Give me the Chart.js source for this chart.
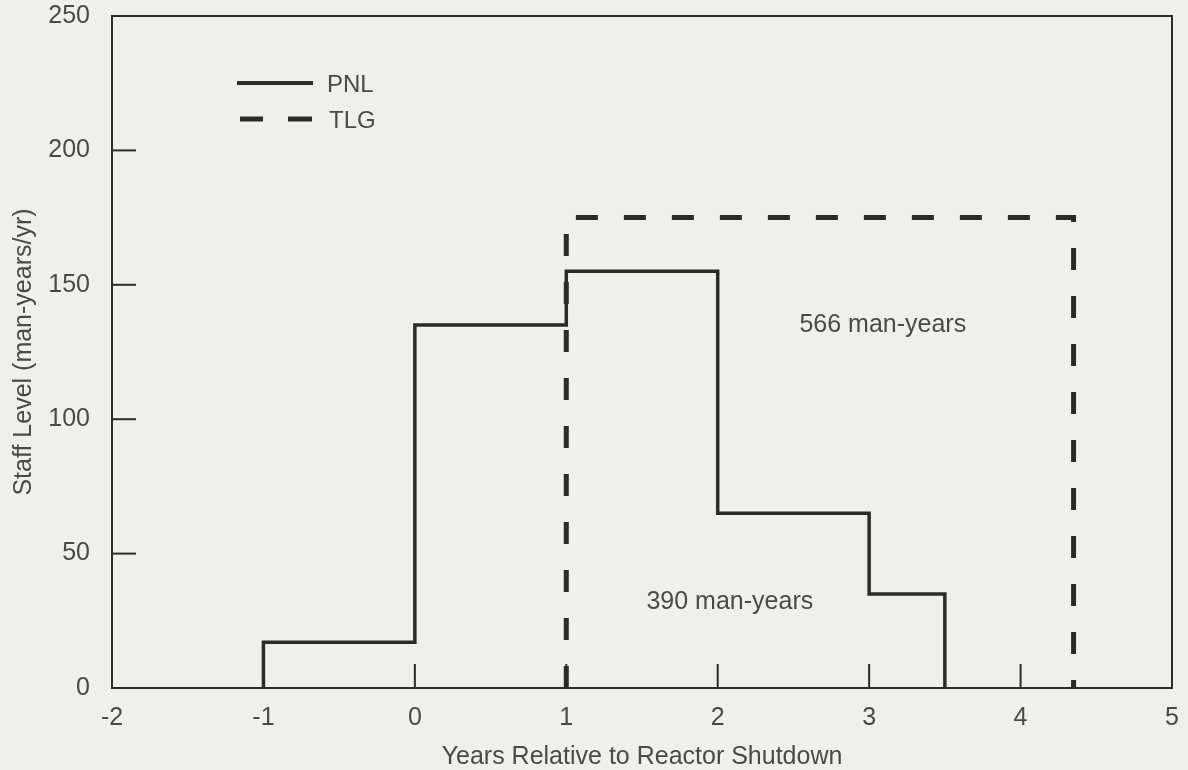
<!DOCTYPE html>
<html>
<head>
<meta charset="utf-8">
<script src="https://cdn.jsdelivr.net/npm/chart.js@4/dist/chart.umd.min.js"></script>
<style>
  html, body { margin: 0; padding: 0; background: #efefec; }
  #wrap { width: 1188px; height: 770px; }
</style>
</head>
<body>
<div id="wrap"><canvas id="c" width="1188" height="770"></canvas></div>
<script>
// PNL staffing profile (stepped)
const pnlYears = [-1, -1, 0, 1, 2, 3, 3.5];
const pnlStaff = [0, 17, 135, 155, 65, 35, 0];
// TLG staffing profile (stepped)
const tlgYears = [1, 1, 4.35];
const tlgStaff = [0, 175, 0];

const xTicks = [-2, -1, 0, 1, 2, 3, 4, 5];
const yTicks = [0, 50, 100, 150, 200, 250];

const ink = '#2b2b2b';
const textInk = '#4a4a4a';
const font = { family: 'Liberation Sans, Arial, sans-serif', size: 25 };

const toPoints = (xs, ys) => xs.map((x, i) => ({ x: x, y: ys[i] }));

// frame, inward ticks, legend and notes
const decor = {
  id: 'decor',
  beforeDraw(chart) {
    const ctx = chart.ctx;
    ctx.save();
    ctx.fillStyle = '#efefec';
    ctx.fillRect(0, 0, chart.width, chart.height);
    ctx.restore();
  },
  afterDraw(chart) {
    const { ctx, chartArea: a, scales } = chart;
    const xs = scales.x, ys = scales.y;
    ctx.save();
    ctx.strokeStyle = ink;
    ctx.lineWidth = 2;
    ctx.strokeRect(a.left, a.top, a.right - a.left, a.bottom - a.top);

    // inward ticks
    xTicks.forEach(v => {
      const px = xs.getPixelForValue(v);
      ctx.beginPath(); ctx.moveTo(px, a.bottom); ctx.lineTo(px, a.bottom - 24); ctx.stroke();
    });
    yTicks.forEach(v => {
      const py = ys.getPixelForValue(v);
      ctx.beginPath(); ctx.moveTo(a.left, py); ctx.lineTo(a.left + 24, py); ctx.stroke();
    });

    // legend
    ctx.lineWidth = 4;
    ctx.beginPath(); ctx.moveTo(237, 83); ctx.lineTo(313, 83); ctx.stroke();
    ctx.lineWidth = 5;
    ctx.beginPath(); ctx.moveTo(240, 119); ctx.lineTo(263, 119); ctx.stroke();
    ctx.beginPath(); ctx.moveTo(288, 119); ctx.lineTo(312, 119); ctx.stroke();
    ctx.fillStyle = textInk;
    ctx.font = '24px ' + font.family;
    ctx.textBaseline = 'middle';
    ctx.textAlign = 'left';
    ctx.fillText('PNL', 327, 85);
    ctx.fillText('TLG', 329, 121);

    // notes
    ctx.font = '25px ' + font.family;
    ctx.textAlign = 'center';
    ctx.fillText('566 man-years', xs.getPixelForValue(3.09), ys.getPixelForValue(135));
    ctx.fillText('390 man-years', xs.getPixelForValue(2.08), ys.getPixelForValue(32));
    ctx.restore();
  }
};

new Chart(document.getElementById('c'), {
  type: 'line',
  data: {
    datasets: [
      {
        label: 'PNL',
        data: toPoints(pnlYears, pnlStaff),
        stepped: 'before',
        borderColor: ink,
        borderWidth: 3.5,
        pointRadius: 0,
        fill: false
      },
      {
        label: 'TLG',
        data: toPoints(tlgYears, tlgStaff),
        stepped: 'before',
        borderColor: ink,
        borderWidth: 5,
        borderDash: [22, 26],
        pointRadius: 0,
        fill: false
      }
    ]
  },
  options: {
    responsive: false,
    animation: false,
    layout: { padding: { top: 16, right: 16, left: 0, bottom: 0 } },
    plugins: { legend: { display: false }, tooltip: { enabled: false } },
    scales: {
      x: {
        type: 'linear',
        min: -2, max: 5,
        afterFit: s => { s.height = 82; s.paddingLeft = 0; s.paddingRight = 0; },
        afterBuildTicks: s => { s.ticks = xTicks.map(v => ({ value: v })); },
        grid: { display: false, drawTicks: false },
        border: { display: false },
        ticks: { color: textInk, font: font, padding: 15 },
        title: {
          display: true,
          text: 'Years Relative to Reactor Shutdown',
          color: textInk,
          font: { family: font.family, size: 25, lineHeight: 1 },
          padding: { top: 0, bottom: 0 }
        }
      },
      y: {
        min: 0, max: 250,
        afterFit: s => { s.width = 112; s.paddingTop = 0; s.paddingBottom = 0; },
        afterBuildTicks: s => { s.ticks = yTicks.map(v => ({ value: v })); },
        grid: { display: false, drawTicks: false },
        border: { display: false },
        ticks: { color: textInk, font: font, padding: 22 },
        title: {
          display: true,
          text: 'Staff Level (man-years/yr)',
          color: textInk,
          font: { family: font.family, size: 25, lineHeight: 1 },
          padding: { top: 12, bottom: 0 }
        }
      }
    }
  },
  plugins: [decor]
});
</script>
</body>
</html>
